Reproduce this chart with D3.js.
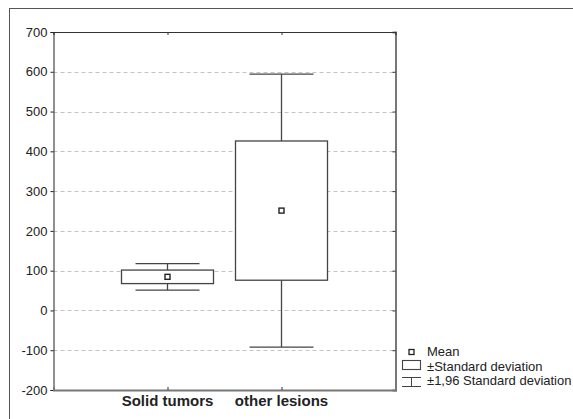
<!DOCTYPE html>
<html><head><meta charset="utf-8">
<script src="https://cdn.jsdelivr.net/npm/d3@7"></script>
<style>body{margin:0;background:#fff}svg{display:block;font-family:"Liberation Sans",Arial,sans-serif}</style>
</head><body>
<svg id="c" width="573" height="419"></svg>
<script>
const categories = ["Solid tumors", "other lesions"];
const means = [84.5, 251];
const sds = [17, 175];
const sdFactor = 1.96;
const yTicks = [-200, -100, 0, 100, 200, 300, 400, 500, 600, 700];
const legendLabels = ["Mean", "\u00B1Standard deviation", "\u00B11,96 Standard deviation"];

const svg = d3.select("#c");
const L = 53.5, R = 395.5, T = 32, B = 390;

svg.append("rect").attr("x", 9.5).attr("y", 8.5).attr("width", 600).attr("height", 600)
  .attr("fill", "none").attr("stroke", "#555").attr("stroke-width", 1);

const y = d3.scaleLinear().domain([-200, 700]).range([B, T]);
const x = d3.scalePoint().domain(categories).range([L, R]).padding(1);

// grid
svg.append("g").selectAll("line").data(yTicks.filter(v => v > -200 && v < 700)).join("line")
  .attr("x1", L).attr("x2", R).attr("y1", d => Math.round(y(d)) + 0.5).attr("y2", d => Math.round(y(d)) + 0.5)
  .attr("stroke", "#c4c4c4").attr("stroke-dasharray", "4,3");

// left axis
const gl = svg.append("g").attr("transform", `translate(${L},0)`)
  .call(d3.axisLeft(y).tickValues(yTicks).tickSize(3).tickPadding(3).tickFormat(d => String(d)));
gl.select(".domain").attr("stroke", "#222");
gl.selectAll(".tick line").attr("stroke", "#222");
gl.selectAll("text").attr("font-size", 13).attr("fill", "#222").attr("font-family", "Liberation Sans, Arial, sans-serif");

// right axis (inside ticks)
const gr = svg.append("g").attr("transform", `translate(${R},0)`)
  .call(d3.axisLeft(y).tickValues(yTicks).tickSize(3).tickFormat(""));
gr.select(".domain").attr("stroke", "#777").attr("stroke-width", 2);
gr.selectAll(".tick line").attr("stroke", "#333");

// top axis (inside ticks)
const gt = svg.append("g").attr("transform", `translate(0,${T})`)
  .call(d3.axisBottom(x).tickSize(3).tickFormat(""));
gt.select(".domain").attr("stroke", "#333").attr("stroke-width", 1.2);
gt.selectAll(".tick line").attr("stroke", "#333");

// bottom axis (inside ticks)
const gb = svg.append("g").attr("transform", `translate(0,${B})`)
  .call(d3.axisTop(x).tickSize(3).tickFormat(""));
gb.select(".domain").attr("stroke", "#777").attr("stroke-width", 2);
gb.selectAll(".tick line").attr("stroke", "#333");

svg.append("g").selectAll("text").data(categories).join("text")
  .attr("x", d => x(d)).attr("y", 406).attr("text-anchor", "middle")
  .attr("font-size", 15).attr("font-weight", "bold").attr("fill", "#222")
  .text(d => d);

// boxes
const boxW = 92, whW = 64;
const g = svg.append("g").attr("stroke", "#444").attr("stroke-width", 1.3).attr("fill", "none");
categories.forEach((c, i) => {
  const cx = x(c), m = means[i], s = sds[i];
  const hi = m + sdFactor * s, lo = m - sdFactor * s;
  g.append("line").attr("x1", cx).attr("x2", cx).attr("y1", y(hi)).attr("y2", y(m + s));
  g.append("line").attr("x1", cx).attr("x2", cx).attr("y1", y(m - s)).attr("y2", y(lo));
  g.append("line").attr("x1", cx - whW / 2).attr("x2", cx + whW / 2).attr("y1", y(hi)).attr("y2", y(hi));
  g.append("line").attr("x1", cx - whW / 2).attr("x2", cx + whW / 2).attr("y1", y(lo)).attr("y2", y(lo));
  g.append("rect").attr("x", cx - boxW / 2).attr("y", y(m + s)).attr("width", boxW).attr("height", y(m - s) - y(m + s)).attr("fill", "#fff");
  g.append("rect").attr("x", cx - 2.5).attr("y", y(m) - 2.5).attr("width", 5).attr("height", 5)
    .attr("stroke", "#222").attr("stroke-width", 1.4).attr("fill", "#fff");
});

// legend
const lg = svg.append("g").attr("font-size", 13).attr("fill", "#222");
const lx = 411.5, tx = 427;
lg.append("rect").attr("x", lx - 2.5).attr("y", 349.5).attr("width", 5).attr("height", 5)
  .attr("fill", "none").attr("stroke", "#222").attr("stroke-width", 1.3);
lg.append("rect").attr("x", 402.5).attr("y", 360.5).attr("width", 18).attr("height", 9)
  .attr("fill", "none").attr("stroke", "#444").attr("stroke-width", 1.1);
lg.append("line").attr("x1", 402).attr("x2", 421).attr("y1", 377.5).attr("y2", 377.5).attr("stroke", "#444");
lg.append("line").attr("x1", 402).attr("x2", 421).attr("y1", 386.5).attr("y2", 386.5).attr("stroke", "#444");
lg.append("line").attr("x1", lx).attr("x2", lx).attr("y1", 377.5).attr("y2", 386.5).attr("stroke", "#444");
lg.selectAll("text").data(legendLabels).join("text")
  .attr("x", tx).attr("y", (d, i) => 356 + i * 14.5).text(d => d);
</script>
</body></html>
